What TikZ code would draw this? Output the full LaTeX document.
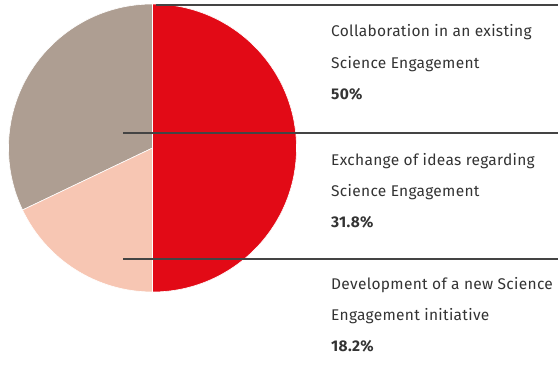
\documentclass[tikz,border=0pt]{standalone}
\usepackage{fontspec}
\setmainfont[LetterSpace=2.0]{Fira Sans}
\usepackage{tikz}
\usepackage{xcolor}
\definecolor{share-red}{HTML}{E20A16}
\definecolor{share-taupe}{HTML}{AE9E92}
\definecolor{share-pink}{HTML}{F7C6B3}
\definecolor{leader-grey}{HTML}{444444}
\definecolor{label-grey}{HTML}{333333}
\tikzset{
    pie-slice/.style = {draw=white, line width=0.6pt},
    leader-line/.style = {draw=leader-grey, line width=1.1pt},
    label-text/.style = {anchor=base west, inner sep=0pt, text=label-grey, font=\fontsize{15.5}{18}\selectfont},
    label-value/.style = {label-text, font=\fontsize{15.5}{18}\selectfont\bfseries},
}

\begin{document}
\begin{tikzpicture}[x=1pt, y=1pt]
\useasboundingbox (0,0) rectangle (558,365);
\coordinate (centre) at (152.5,217);
% slices
\filldraw[pie-slice, fill=share-red] (centre) -- ++(90:144) arc (90:-90:144) -- cycle;
\filldraw[pie-slice, fill=share-taupe] (centre) -- ++(90:144) arc (90:205.5:144) -- cycle;
\filldraw[pie-slice, fill=share-pink] (centre) -- ++(205.5:144) arc (205.5:270:144) -- cycle;
% leaders
\coordinate (lead-a-start) at (156,360);
\coordinate (lead-a-end) at (558,360);
\coordinate (lead-b-start) at (123,232);
\coordinate (lead-b-end) at (558,232);
\coordinate (lead-c-start) at (123,106);
\coordinate (lead-c-end) at (558,106);
\draw[leader-line] (lead-a-start) -- (lead-a-end);
\draw[leader-line] (lead-b-start) -- (lead-b-end);
\draw[leader-line] (lead-c-start) -- (lead-c-end);
% labels
\node[label-text] (collab-1) at (331,328) {Collaboration in an existing};
\node[label-text] (collab-2) at (331,296) {Science Engagement};
\node[label-value] (collab-pct) at (331,265) {50\%};
\node[label-text] (exchange-1) at (331,200) {Exchange of ideas regarding};
\node[label-text] (exchange-2) at (331,168) {Science Engagement};
\node[label-value] (exchange-pct) at (331,137) {31.8\%};
\node[label-text] (develop-1) at (331,76) {Development of a new Science};
\node[label-text] (develop-2) at (331,45) {Engagement initiative};
\node[label-value] (develop-pct) at (331,14) {18.2\%};
\end{tikzpicture}
\end{document}
